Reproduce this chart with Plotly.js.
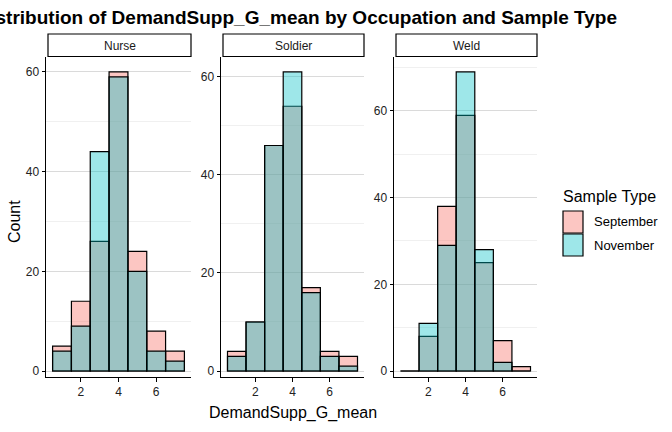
<!DOCTYPE html>
<html>
<head>
<meta charset="utf-8">
<script src="https://cdn.plot.ly/plotly-3.0.1.min.js"></script>
<style>html,body{margin:0;padding:0;background:#fff}#chart{width:672px;height:432px}</style>
</head>
<body>
<div id="chart"></div>
<script>
// Data
const occupations = ["Nurse", "Soldier", "Weld"];
const binCenters = [1, 2, 3, 4, 5, 6, 7];
const sampleTypes = ["September", "November"];
const nurseSeptember   = [5, 14, 26, 60, 24, 8, 4];
const nurseNovember    = [4, 9, 44, 59, 20, 4, 2];
const soldierSeptember = [4, 10, 46, 54, 17, 4, 3];
const soldierNovember  = [3, 10, 46, 61, 16, 3, 1];
const weldSeptember    = [0, 8, 38, 59, 25, 7, 1];
const weldNovember     = [0, 11, 29, 69, 28, 2, 0];
const xTickVals = [2, 4, 6];
const yTickVals = [0, 20, 40, 60];

const seriesByOcc = {
  Nurse: [nurseSeptember, nurseNovember],
  Soldier: [soldierSeptember, soldierNovember],
  Weld: [weldSeptember, weldNovember]
};

// Styling
const W = 672, H = 432;
const fills = ["rgba(248,118,109,0.42)", "rgba(0,191,196,0.38)"];
const panelsPx = [[46, 191], [221, 364], [394, 537]];
const yTopPx = 57, yBotPx = 377;
const stripTopPx = 34;
const yDom = [(H - yBotPx) / H, (H - yTopPx) / H];
const font = "Liberation Sans, Arial, sans-serif";
const tickFont = {size: 12, color: "#222", family: font};

const traces = [];
const layout = {
  width: W, height: H,
  margin: {l: 0, r: 0, t: 0, b: 0},
  paper_bgcolor: "#ffffff",
  plot_bgcolor: "rgba(0,0,0,0)",
  barmode: "overlay",
  bargap: 0,
  font: {family: font, color: "#000"},
  title: {
    text: "<b>Distribution of DemandSupp_G_mean by Occupation and Sample Type</b>",
    font: {size: 19, family: font, color: "#000"},
    xref: "container", yref: "container",
    x: 617 / W, xanchor: "right",
    y: 1 - 17 / H, yanchor: "middle"
  },
  showlegend: false,
  shapes: [],
  annotations: []
};

occupations.forEach((occ, i) => {
  const ax = i === 0 ? "" : String(i + 1);
  const series = seriesByOcc[occ];
  const maxCount = Math.max(...series[0], ...series[1]);
  sampleTypes.forEach((st, j) => {
    traces.push({
      type: "bar",
      x: binCenters,
      y: series[j],
      width: 1,
      name: st,
      marker: {color: fills[j], line: {color: "#000", width: 1.2}},
      xaxis: "x" + ax, yaxis: "y" + ax,
      hoverinfo: "skip"
    });
  });
  const [l, r] = panelsPx[i];
  layout["xaxis" + ax] = {
    domain: [l / W, r / W],
    anchor: "y" + ax,
    range: [0.15, 7.85],
    tickvals: xTickVals,
    ticks: "outside", ticklen: 3.5, tickcolor: "#000", tickwidth: 1,
    showline: true, linecolor: "#000", linewidth: 1,
    showgrid: false, zeroline: false,
    tickfont: tickFont
  };
  layout["yaxis" + ax] = {
    domain: yDom,
    anchor: "x" + ax,
    range: [-0.02 * maxCount, 1.05 * maxCount],
    tickvals: yTickVals,
    ticks: "outside", ticklen: 3.5, tickcolor: "#000", tickwidth: 1,
    showline: true, linecolor: "#000", linewidth: 1,
    showgrid: true, gridcolor: "#d6d6d6", gridwidth: 0.9,
    minor: {tickvals: [10, 30, 50, 70], showgrid: true, gridcolor: "#ececec", gridwidth: 0.8, ticks: ""},
    zeroline: false,
    tickfont: tickFont
  };
  // facet strip
  layout.shapes.push({
    type: "rect", xref: "paper", yref: "paper",
    x0: (l + 2) / W, x1: r / W,
    y0: (H - yTopPx + 0.5) / H, y1: (H - stripTopPx) / H,
    line: {color: "#000", width: 1.2}, fillcolor: "#ffffff"
  });
  layout.annotations.push({
    text: occ, xref: "paper", yref: "paper",
    x: (l + 2 + r) / 2 / W, y: (H - (stripTopPx + yTopPx) / 2) / H,
    xanchor: "center", yanchor: "middle", showarrow: false,
    font: {size: 12, color: "#1a1a1a", family: font}
  });
});

// legend (drawn as keys + labels)
layout.annotations.push({
  text: "Sample Type", xref: "paper", yref: "paper",
  x: 561 / W, y: (H - 196) / H, xanchor: "left", yanchor: "middle",
  showarrow: false, font: {size: 16, color: "#000", family: font}
});
sampleTypes.forEach((st, j) => {
  const top = 211 + j * 23;
  layout.shapes.push({
    type: "rect", xref: "paper", yref: "paper",
    x0: 563 / W, x1: 583 / W,
    y0: (H - top - 22) / H, y1: (H - top) / H,
    line: {color: "#000", width: 1.2}, fillcolor: fills[j]
  });
  layout.annotations.push({
    text: st, xref: "paper", yref: "paper",
    x: 592 / W, y: (H - top - 11) / H, xanchor: "left", yanchor: "middle",
    showarrow: false, font: {size: 13, color: "#000", family: font}
  });
});

// axis titles
layout.annotations.push({
  text: "Count", xref: "paper", yref: "paper",
  x: 15 / W, y: (H - 222) / H, textangle: -90,
  xanchor: "center", yanchor: "middle", showarrow: false,
  font: {size: 16, color: "#000", family: font}
});
layout.annotations.push({
  text: "DemandSupp_G_mean", xref: "paper", yref: "paper",
  x: 293 / W, y: (H - 413) / H,
  xanchor: "center", yanchor: "middle", showarrow: false,
  font: {size: 16, color: "#000", family: font}
});

Plotly.newPlot("chart", traces, layout, {displayModeBar: false, staticPlot: true});
</script>
</body>
</html>
